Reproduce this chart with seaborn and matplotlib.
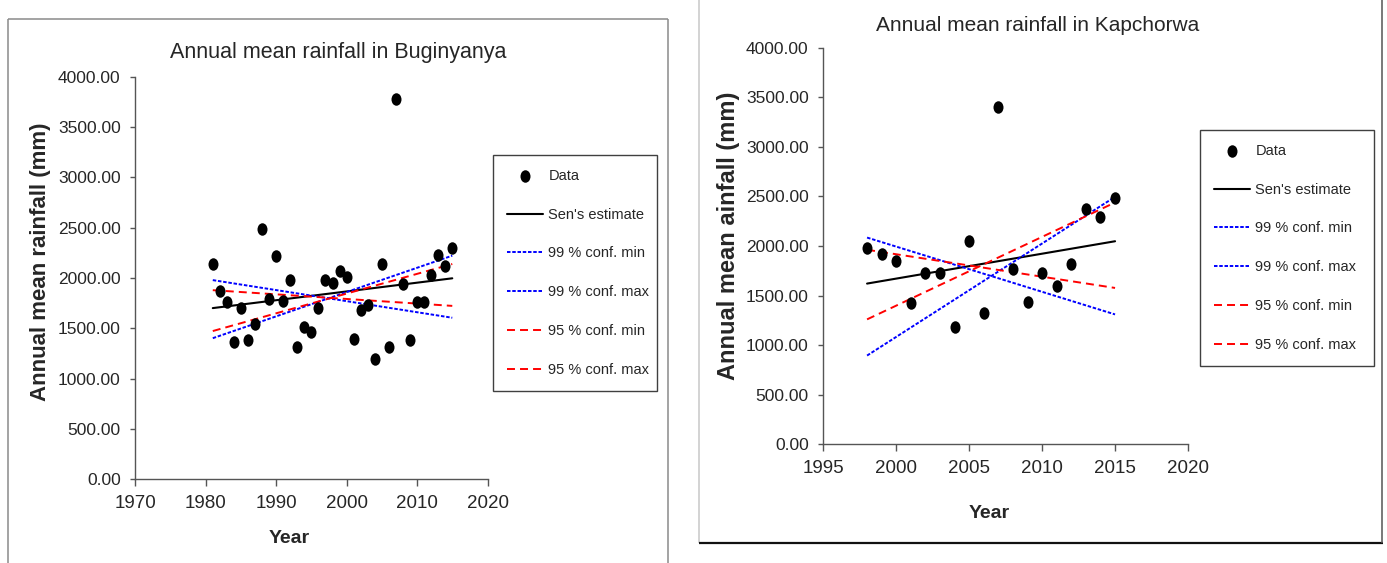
import matplotlib
matplotlib.use("Agg")
import matplotlib.pyplot as plt
import seaborn as sns
from matplotlib import font_manager
from matplotlib.lines import Line2D
from matplotlib.markers import MarkerStyle
from matplotlib.ticker import FormatStrFormatter
from matplotlib.transforms import Affine2D

# --- Buginyanya (1981-2015) ---
years_bug = list(range(1981, 2016))
rain_bug = [2139, 1872, 1765, 1367, 1701, 1388, 1541, 2491, 1794, 2214,
            1772, 1979, 1310, 1509, 1466, 1701, 1979, 1950, 2068, 2014,
            1395, 1687, 1730, 1196, 2139, 1310, 3780, 1936, 1381, 1758,
            1758, 2025, 2228, 2121, 2299]
trend_years_bug = [1981, 2015]
sen_bug = [1701, 1997]
conf99_min_bug = [1979, 1605]
conf99_max_bug = [1402, 2222]
conf95_min_bug = [1879, 1723]
conf95_max_bug = [1473, 2139]

# --- Kapchorwa (1998-2015) ---
years_kap = list(range(1998, 2016))
rain_kap = [1982, 1915, 1845, 1421, 1731, 1731, 1180, 2048, 1326, 3398,
            1771, 1437, 1724, 1594, 1818, 2369, 2296, 2489]
trend_years_kap = [1998, 2015]
sen_kap = [1621, 2048]
conf99_min_kap = [2085, 1310]
conf99_max_kap = [895, 2496]
conf95_min_kap = [1962, 1577]
conf95_max_kap = [1260, 2439]

W, H = 1387, 563

sns.set_style("white")
plt.rcParams["font.family"] = ["Liberation Sans", "DejaVu Sans"]

installed = {f.name for f in font_manager.fontManager.ttflist}
if "Liberation Sans Narrow" in installed:
    NARROW = ["Liberation Sans Narrow", "Liberation Sans"]
    xtick_size, year_size, narrow_title_size = 15, 16, 18
else:
    NARROW = ["Liberation Sans", "DejaVu Sans"]
    xtick_size, year_size, narrow_title_size = 13.5, 14, 15.5

AXIS_GREY = "#555555"
dot = MarkerStyle("o", transform=Affine2D().scale(0.8, 1.0))
blue_dots = (0, (1.8, 0.9))
red_dash = (0, (4.1, 2.6))


def px_axes(left, top, right, bottom):
    return [left / W, 1 - bottom / H, (right - left) / W, (bottom - top) / H]


def draw_panel(ax, years, rain, t_years, sen, c99min, c99max, c95min, c95max):
    sns.scatterplot(x=years, y=rain, ax=ax, marker=dot, s=81, color="black",
                    linewidth=0, label="Data", zorder=3)
    sns.lineplot(x=t_years, y=sen, ax=ax, color="black", lw=1.5,
                 label="Sen's estimate")
    sns.lineplot(x=t_years, y=c99min, ax=ax, color="blue", lw=1.4,
                 linestyle=blue_dots, label="99 % conf. min")
    sns.lineplot(x=t_years, y=c99max, ax=ax, color="blue", lw=1.4,
                 linestyle=blue_dots, label="99 % conf. max")
    sns.lineplot(x=t_years, y=c95min, ax=ax, color="red", lw=1.4,
                 linestyle=red_dash, label="95 % conf. min")
    sns.lineplot(x=t_years, y=c95max, ax=ax, color="red", lw=1.4,
                 linestyle=red_dash, label="95 % conf. max")


def style_axes(ax, xlim, xstep):
    ax.set_xlim(*xlim)
    ax.set_ylim(0, 4000)
    ax.set_xticks(list(range(xlim[0], xlim[1] + 1, xstep)))
    ax.set_yticks(list(range(0, 4001, 500)))
    ax.yaxis.set_major_formatter(FormatStrFormatter("%.2f"))
    for side in ["top", "right"]:
        ax.spines[side].set_visible(False)
    for side in ["left", "bottom"]:
        ax.spines[side].set_color(AXIS_GREY)
        ax.spines[side].set_linewidth(1.0)
    ax.tick_params(axis="y", direction="out", length=3.5, width=1.0,
                   color=AXIS_GREY, pad=7, labelsize=12.5, left=True)
    ax.tick_params(axis="x", direction="out", length=5, width=1.0,
                   color=AXIS_GREY, pad=6, labelsize=xtick_size, bottom=True)
    for lab in ax.get_xticklabels():
        lab.set_fontfamily(NARROW)


def place_legend(ax, left, top, right, bottom):
    leg = ax.legend(loc="upper left", mode="expand",
                    bbox_to_anchor=(left / W, 1 - bottom / H,
                                    (right - left) / W, (bottom - top) / H),
                    bbox_transform=ax.figure.transFigure,
                    fontsize=10.5, frameon=True, fancybox=False, shadow=False,
                    borderpad=0.95, labelspacing=1.70, handlelength=2.5,
                    handletextpad=0.35, borderaxespad=0)
    frame = leg.get_frame()
    frame.set_edgecolor("#404040")
    frame.set_linewidth(1.0)
    frame.set_alpha(1.0)


fig = plt.figure(figsize=(W / 100, H / 100), dpi=100)

# left panel: Buginyanya
ax1 = fig.add_axes(px_axes(135.3, 76.7, 487.5, 479.3))
draw_panel(ax1, years_bug, rain_bug, trend_years_bug, sen_bug,
           conf99_min_bug, conf99_max_bug, conf95_min_bug, conf95_max_bug)
style_axes(ax1, (1970, 2020), 10)
ax1.set_title("Annual mean rainfall in Buginyanya", fontsize=narrow_title_size,
              family=NARROW, x=(338 - 135.3) / 352.2, y=(479.3 - 57.7) / 402.6,
              pad=0, va="baseline")
ax1.set_ylabel("Annual mean rainfall (mm)", fontsize=16, fontweight="bold",
               va="center")
ax1.yaxis.set_label_coords((40.3 - 135.3) / 352.2, (479.3 - 262) / 402.6)
ax1.set_xlabel("Year", fontsize=year_size, fontweight="bold", family=NARROW,
               va="center")
ax1.xaxis.set_label_coords((289 - 135.3) / 352.2, -(538.3 - 479.3) / 402.6)
place_legend(ax1, 493, 155, 657, 389)

# right panel: Kapchorwa
ax2 = fig.add_axes(px_axes(823.3, 47.7, 1188, 444.3))
draw_panel(ax2, years_kap, rain_kap, trend_years_kap, sen_kap,
           conf99_min_kap, conf99_max_kap, conf95_min_kap, conf95_max_kap)
style_axes(ax2, (1995, 2020), 5)
ax2.set_title("Annual mean rainfall in Kapchorwa", fontsize=15,
              x=(1037.5 - 823.3) / 364.7, y=(444.3 - 31) / 396.6,
              pad=0, va="baseline")
ax2.set_ylabel("Annual mean ainfall (mm)", fontsize=17, fontweight="bold",
               va="center")
ax2.yaxis.set_label_coords((728.3 - 823.3) / 364.7, (444.3 - 236) / 396.6)
ax2.set_xlabel("Year", fontsize=year_size, fontweight="bold", family=NARROW,
               va="center")
ax2.xaxis.set_label_coords((989 - 823.3) / 364.7, -(513.4 - 444.3) / 396.6)
place_legend(ax2, 1200, 130, 1374, 368)


# chart-area borders
def border(x0, y0, x1, y1, color, lw):
    fig.add_artist(Line2D([x0 / W, x1 / W], [1 - y0 / H, 1 - y1 / H],
                          transform=fig.transFigure, color=color, lw=lw,
                          solid_capstyle="butt"))


border(8, 18.6, 668, 18.6, "#8a8a8a", 1.1)
border(8, 18.6, 8, H + 2, "#8a8a8a", 1.1)
border(668, 18.6, 668, H + 2, "#8a8a8a", 1.1)

border(699, -2, 699, 543, "#c8c8c8", 1.1)
border(699, 543, 1383, 543, "#111111", 1.6)
border(1382, -2, 1382, 543, "#555555", 1.1)

fig.savefig("out.png", dpi=100)
